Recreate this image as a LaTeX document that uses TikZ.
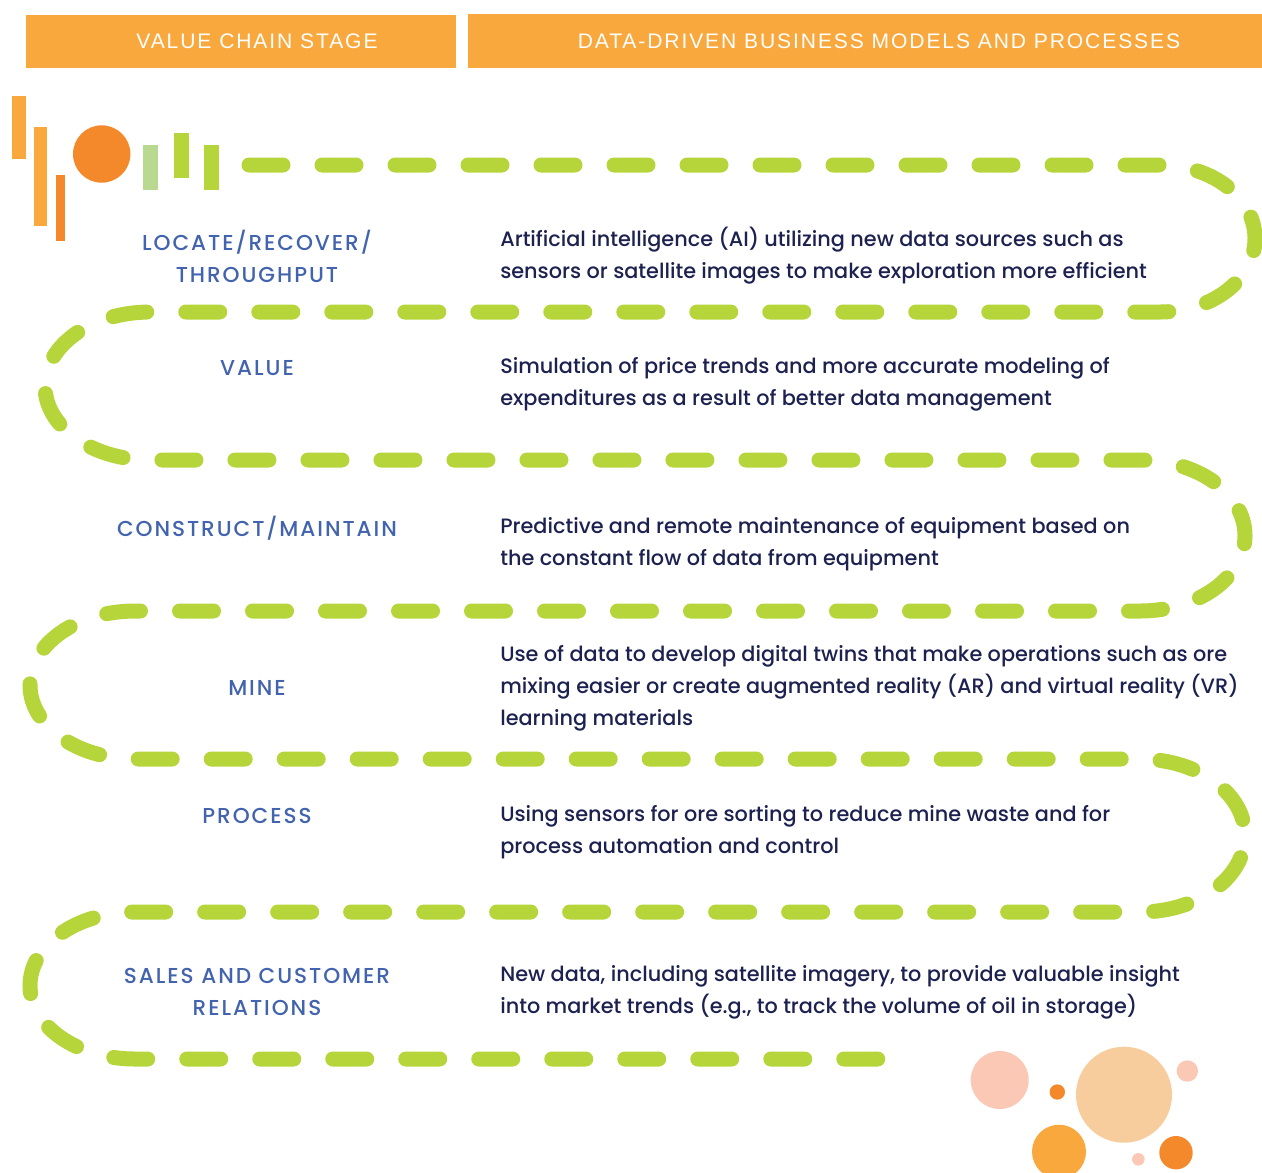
\documentclass[tikz,border=0pt]{standalone}
\usepackage{fontspec}
\setmainfont{Poppins}[UprightFont=* Medium]
\newfontfamily\headfont{Liberation Sans}[LetterSpace=9]
\newfontfamily\labelfont{Poppins}[UprightFont=* Medium,LetterSpace=9]
\definecolor{headorange}{HTML}{F9A83D}
\definecolor{deeporange}{HTML}{F4892B}
\definecolor{limegreen}{HTML}{B5D53A}
\definecolor{palegreen}{HTML}{B8D98F}
\definecolor{stageblue}{HTML}{4263AE}
\definecolor{bodynavy}{HTML}{1C2150}
\definecolor{blush}{HTML}{FBC8B5}
\definecolor{peach}{HTML}{F8CD9E}
\begin{document}
\begin{tikzpicture}[x=0.75pt,y=-0.75pt,
  header/.style={fill=headorange,draw=none},
  headtext/.style={text=white,font=\headfont\fontsize{15.8}{18}\selectfont,inner sep=0},
  stage/.style={text=stageblue,font=\labelfont\fontsize{16.2}{24}\selectfont,align=center,inner sep=0},
  desc/.style={text=bodynavy,font=\fontsize{15.6}{24}\selectfont,align=left,anchor=west,inner sep=0},
  trail/.style={draw=limegreen,line width=11.25pt,line cap=round,dash pattern=on 25.5pt off 29.25pt}
]
\useasboundingbox (0,0) rectangle (1262,1172);

% column headers
\fill[header] (26,15) rectangle (456,68);
\fill[header] (468,14) rectangle (1262,68);
\node[headtext] (h1) at (257,41) {VALUE CHAIN STAGE};
\node[headtext] (h2) at (879,41) {DATA-DRIVEN BUSINESS MODELS AND PROCESSES};

% decorative bars and dot at the start of the trail
\fill[headorange] (12,96) rectangle (26,159);
\fill[headorange] (34,127) rectangle (47,226);
\fill[deeporange] (56,175) rectangle (65,241);
\fill[deeporange] (101.7,154) circle[radius=28.7];
\fill[palegreen] (143,145) rectangle (158,190);
\fill[limegreen] (174,133) rectangle (189,178);
\fill[limegreen] (204,145) rectangle (219,190);

% the winding dashed trail
\draw[trail] (249,165) -- (1160,165)
  arc[start angle=-90,end angle=90,x radius=95,y radius=73.5]
  -- (150,312)
  arc[start angle=270,end angle=90,x radius=105,y radius=74]
  -- (1140,460)
  arc[start angle=-90,end angle=90,x radius=105,y radius=75.5]
  -- (135,611)
  arc[start angle=270,end angle=90,x radius=105,y radius=74]
  -- (1140,759)
  arc[start angle=-90,end angle=90,x radius=105,y radius=76.5]
  -- (135,912)
  arc[start angle=270,end angle=90,x radius=105,y radius=73.5]
  -- (893,1059);

% value chain stages
\node[stage] (s1) at (257,256) {LOCATE/RECOVER/\\THROUGHPUT};
\node[stage] (s2) at (257,368) {VALUE};
\node[stage] (s3) at (257,528) {CONSTRUCT/MAINTAIN};
\node[stage] (s4) at (257,688) {MINE};
\node[stage] (s5) at (257,816) {PROCESS};
\node[stage] (s6) at (257,992) {SALES AND CUSTOMER\\RELATIONS};

% descriptions
\node[desc] (d1) at (500,256) {Artificial intelligence (AI) utilizing new data sources such as\\sensors or satellite images to make exploration more efficient};
\node[desc] (d2) at (500,384) {Simulation of price trends and more accurate modeling of\\expenditures as a result of better data management};
\node[desc] (d3) at (500,544) {Predictive and remote maintenance of equipment based on\\the constant flow of data from equipment};
\node[desc] (d4) at (500,688) {Use of data to develop digital twins that make operations such as ore\\mixing easier or create augmented reality (AR) and virtual reality (VR)\\learning materials};
\node[desc] (d5) at (500,832) {Using sensors for ore sorting to reduce mine waste and for\\process automation and control};
\node[desc] (d6) at (500,992) {New data, including satellite imagery, to provide valuable insight\\into market trends (e.g., to track the volume of oil in storage)};

% bubbles in the lower right corner
\fill[blush] (999.7,1080) circle[radius=29];
\fill[deeporange] (1057.3,1092) circle[radius=7.7];
\fill[peach] (1124,1094.7) circle[radius=48];
\fill[blush] (1187.3,1071) circle[radius=10.7];
\fill[headorange] (1059,1151.7) circle[radius=27];
\fill[blush] (1138.3,1159.3) circle[radius=6.3];
\fill[deeporange] (1176,1152.7) circle[radius=16.7];
\end{tikzpicture}
\end{document}
